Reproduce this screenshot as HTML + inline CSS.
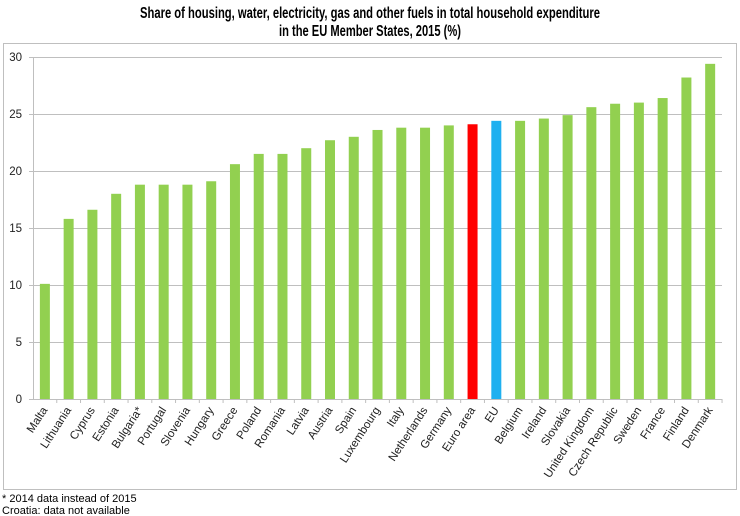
<!DOCTYPE html>
<html><head><meta charset="utf-8"><style>
body{margin:0;background:#fff;}
svg{display:block;font-family:"Liberation Sans",sans-serif;}
</style></head><body>
<svg width="740" height="516" viewBox="0 0 740 516" xmlns="http://www.w3.org/2000/svg">
<text x="370" y="18" text-anchor="middle" font-size="16" font-weight="bold" textLength="460" lengthAdjust="spacingAndGlyphs">Share of housing, water, electricity, gas and other fuels in total household expenditure</text>
<text x="370" y="36" text-anchor="middle" font-size="16" font-weight="bold" textLength="182" lengthAdjust="spacingAndGlyphs">in the EU Member States, 2015 (%)</text>
<rect x="3.5" y="43.5" width="733" height="446" fill="none" stroke="#bfbfbf" stroke-width="1"/>
<g id="grid" stroke="#bfbfbf" stroke-width="1"></g>
<g id="bars"></g>
<g id="labels" font-size="11.5" fill="#222"></g>
<text x="2" y="502" font-size="11">* 2014 data instead of 2015</text>
<text x="2" y="514" font-size="11">Croatia: data not available</text>
<script>
var ns="http://www.w3.org/2000/svg";
function el(t,a,p,txt){var e=document.createElementNS(ns,t);for(var k in a)e.setAttribute(k,a[k]);if(txt)e.textContent=txt;document.getElementById(p).appendChild(e);return e;}
var y0=399,sc=11.4,x0=33,w=23.76;
for(var v=0;v<=30;v+=5){var y=y0-v*sc;
 if(v>0)el("line",{x1:x0,x2:722,y1:y+.5,y2:y+.5},"grid");
 el("text",{x:22,y:y+4,"text-anchor":"end","font-size":"11.5"},"labels",String(v));
 el("line",{x1:29,x2:x0,y1:y+.5,y2:y+.5},"grid");}
el("line",{x1:x0+.5,x2:x0+.5,y1:57,y2:y0},"grid");
el("line",{x1:x0,x2:722,y1:y0+.5,y2:y0+.5},"grid");
var d=[["Malta",10.1],["Lithuania",15.8],["Cyprus",16.6],["Estonia",18.0],["Bulgaria*",18.8],["Portugal",18.8],["Slovenia",18.8],["Hungary",19.1],["Greece",20.6],["Poland",21.5],["Romania",21.5],["Latvia",22.0],["Austria",22.7],["Spain",23.0],["Luxembourg",23.6],["Italy",23.8],["Netherlands",23.8],["Germany",24.0],["Euro area",24.1],["EU",24.4],["Belgium",24.4],["Ireland",24.6],["Slovakia",24.9],["United Kingdom",25.6],["Czech Republic",25.9],["Sweden",26.0],["France",26.4],["Finland",28.2],["Denmark",29.4]];
d.forEach(function(r,i){var c=x0+w*(i+.5);var col=r[0]=="Euro area"?"#ff0000":r[0]=="EU"?"#1fb0f0":"#92d050";
 el("rect",{x:c-5,y:y0-r[1]*sc,width:10,height:r[1]*sc,fill:col},"bars");
 el("line",{x1:x0+w*(i+1),x2:x0+w*(i+1),y1:y0,y2:y0+4},"grid");
 el("text",{x:c+3,y:y0+11,"text-anchor":"end",transform:"rotate(-57 "+(c+3)+" "+(y0+11)+")"},"labels",r[0]);});
</script>
</svg>
</body></html>
